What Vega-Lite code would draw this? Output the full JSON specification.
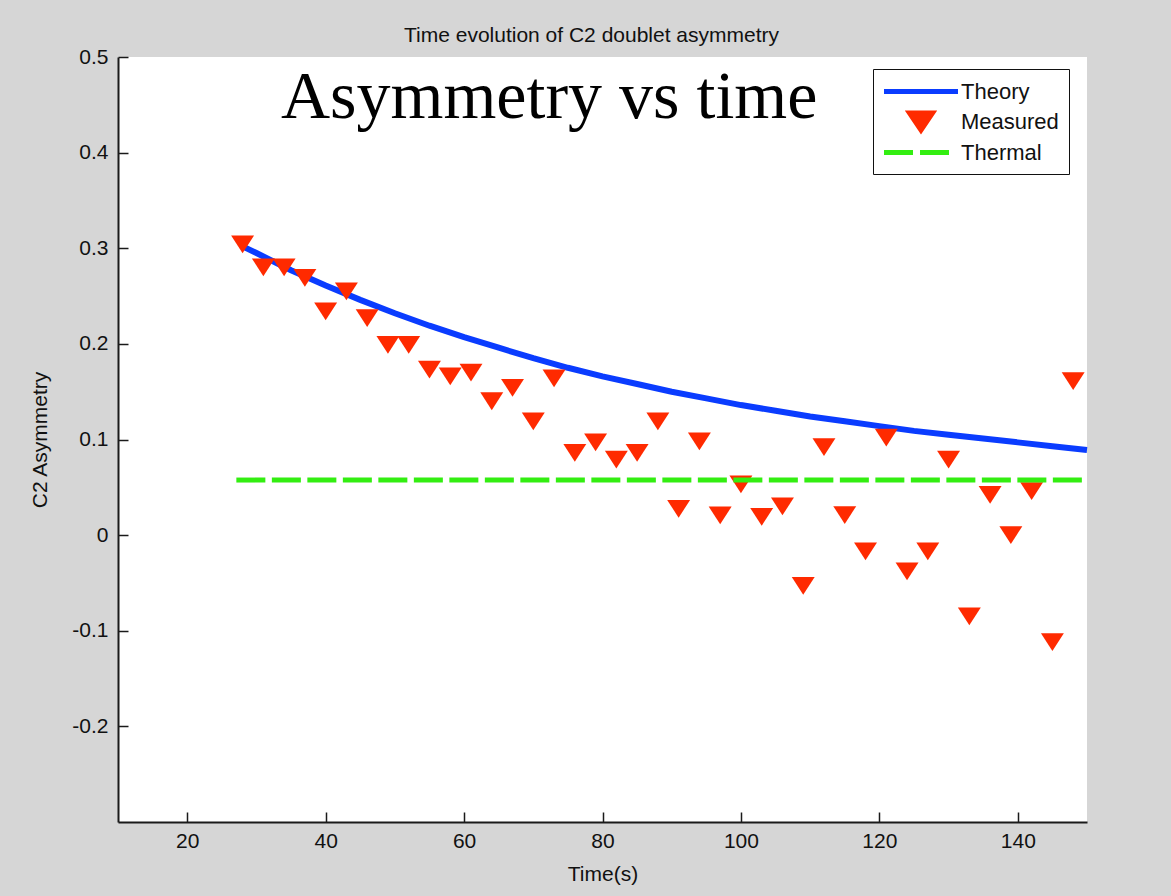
{
  "$schema": "https://vega.github.io/schema/vega-lite/v6.json",
  "width": 969,
  "height": 765,
  "autosize": {"type": "none"},
  "padding": {"left": 118, "top": 57, "right": 84, "bottom": 74},
  "background": "#d6d6d6",
  "title": {
    "text": "Time evolution of C2 doublet asymmetry",
    "font": "Liberation Sans",
    "fontSize": 21,
    "fontWeight": "normal",
    "color": "#111111",
    "anchor": "middle",
    "frame": "group",
    "baseline": "alphabetic",
    "offset": 14,
    "dx": -11,
    "dy": 31
  },
  "config": {
    "view": {"fill": "white", "stroke": null}
  },
  "datasets": {
    "theory": [
      {"t": 28, "a": 0.302, "series": "Theory"},
      {"t": 30, "a": 0.295, "series": "Theory"},
      {"t": 35, "a": 0.277, "series": "Theory"},
      {"t": 40, "a": 0.261, "series": "Theory"},
      {"t": 45, "a": 0.246, "series": "Theory"},
      {"t": 50, "a": 0.232, "series": "Theory"},
      {"t": 55, "a": 0.219, "series": "Theory"},
      {"t": 60, "a": 0.207, "series": "Theory"},
      {"t": 65, "a": 0.196, "series": "Theory"},
      {"t": 70, "a": 0.185, "series": "Theory"},
      {"t": 75, "a": 0.175, "series": "Theory"},
      {"t": 80, "a": 0.166, "series": "Theory"},
      {"t": 85, "a": 0.158, "series": "Theory"},
      {"t": 90, "a": 0.150, "series": "Theory"},
      {"t": 95, "a": 0.143, "series": "Theory"},
      {"t": 100, "a": 0.136, "series": "Theory"},
      {"t": 105, "a": 0.130, "series": "Theory"},
      {"t": 110, "a": 0.124, "series": "Theory"},
      {"t": 115, "a": 0.119, "series": "Theory"},
      {"t": 120, "a": 0.114, "series": "Theory"},
      {"t": 125, "a": 0.109, "series": "Theory"},
      {"t": 130, "a": 0.105, "series": "Theory"},
      {"t": 135, "a": 0.101, "series": "Theory"},
      {"t": 140, "a": 0.097, "series": "Theory"},
      {"t": 145, "a": 0.093, "series": "Theory"},
      {"t": 150, "a": 0.089, "series": "Theory"}
    ],
    "measured": [
      {"t": 28, "a": 0.304, "series": "Measured"},
      {"t": 31, "a": 0.280, "series": "Measured"},
      {"t": 34, "a": 0.280, "series": "Measured"},
      {"t": 37, "a": 0.269, "series": "Measured"},
      {"t": 40, "a": 0.234, "series": "Measured"},
      {"t": 43, "a": 0.255, "series": "Measured"},
      {"t": 46, "a": 0.227, "series": "Measured"},
      {"t": 49, "a": 0.199, "series": "Measured"},
      {"t": 52, "a": 0.199, "series": "Measured"},
      {"t": 55, "a": 0.173, "series": "Measured"},
      {"t": 58, "a": 0.166, "series": "Measured"},
      {"t": 61, "a": 0.170, "series": "Measured"},
      {"t": 64, "a": 0.140, "series": "Measured"},
      {"t": 67, "a": 0.154, "series": "Measured"},
      {"t": 70, "a": 0.119, "series": "Measured"},
      {"t": 73, "a": 0.164, "series": "Measured"},
      {"t": 76, "a": 0.086, "series": "Measured"},
      {"t": 79, "a": 0.097, "series": "Measured"},
      {"t": 82, "a": 0.079, "series": "Measured"},
      {"t": 85, "a": 0.086, "series": "Measured"},
      {"t": 88, "a": 0.119, "series": "Measured"},
      {"t": 91, "a": 0.0275, "series": "Measured"},
      {"t": 94, "a": 0.098, "series": "Measured"},
      {"t": 97, "a": 0.0206, "series": "Measured"},
      {"t": 100, "a": 0.053, "series": "Measured"},
      {"t": 103, "a": 0.019, "series": "Measured"},
      {"t": 106, "a": 0.030, "series": "Measured"},
      {"t": 109, "a": -0.053, "series": "Measured"},
      {"t": 112, "a": 0.092, "series": "Measured"},
      {"t": 115, "a": 0.021, "series": "Measured"},
      {"t": 118, "a": -0.017, "series": "Measured"},
      {"t": 121, "a": 0.102, "series": "Measured"},
      {"t": 124, "a": -0.038, "series": "Measured"},
      {"t": 127, "a": -0.017, "series": "Measured"},
      {"t": 130, "a": 0.079, "series": "Measured"},
      {"t": 133, "a": -0.085, "series": "Measured"},
      {"t": 136, "a": 0.042, "series": "Measured"},
      {"t": 139, "a": 0.000, "series": "Measured"},
      {"t": 142, "a": 0.046, "series": "Measured"},
      {"t": 145, "a": -0.112, "series": "Measured"},
      {"t": 148, "a": 0.161, "series": "Measured"}
    ],
    "thermal": [
      {"t": 27.1, "a": 0.0576, "series": "Thermal"},
      {"t": 150, "a": 0.0576, "series": "Thermal"}
    ],
    "annotation": [
      {"t": 72.3, "a": 0.4367, "label": "Asymmetry vs time"}
    ]
  },
  "encoding": {
    "x": {
      "field": "t",
      "type": "quantitative",
      "scale": {"domain": [10, 150], "nice": false, "zero": false},
      "axis": {
        "title": "Time(s)",
        "values": [20, 40, 60, 80, 100, 120, 140],
        "grid": false,
        "domainColor": "#1a1a1a",
        "domainWidth": 2,
        "tickColor": "#1a1a1a",
        "tickWidth": 1.5,
        "tickSize": -10,
        "labelFont": "Liberation Sans",
        "labelFontSize": 21,
        "labelColor": "#111111",
        "labelPadding": 18,
        "labelFlush": false,
        "titleFont": "Liberation Sans",
        "titleFontSize": 21,
        "titleFontWeight": "normal",
        "titleColor": "#111111",
        "titlePadding": 12
      }
    },
    "y": {
      "field": "a",
      "type": "quantitative",
      "scale": {"domain": [-0.3, 0.5], "nice": false, "zero": false},
      "axis": {
        "title": "C2 Asymmetry",
        "values": [-0.2, -0.1, 0, 0.1, 0.2, 0.3, 0.4, 0.5],
        "labelExpr": "datum.value == 0 ? '0' : replace(format(datum.value, '.1f'), '\u2212', '-')",
        "grid": false,
        "domainColor": "#1a1a1a",
        "domainWidth": 2,
        "tickColor": "#1a1a1a",
        "tickWidth": 1.5,
        "tickSize": -10,
        "labelFont": "Liberation Sans",
        "labelFontSize": 21,
        "labelColor": "#111111",
        "labelPadding": 20,
        "labelFlush": false,
        "titleFont": "Liberation Sans",
        "titleFontSize": 21,
        "titleFontWeight": "normal",
        "titleColor": "#111111",
        "titlePadding": 21
      }
    },
    "color": {
      "field": "series",
      "type": "nominal",
      "scale": {
        "domain": ["Theory", "Measured", "Thermal"],
        "range": ["#0a3cff", "#ff2a00", "#33ee11"]
      },
      "legend": {
        "title": null,
        "orient": "none",
        "legendX": 755,
        "legendY": 12,
        "strokeColor": "#111111",
        "fillColor": "white",
        "padding": 10,
        "cornerRadius": 0,
        "labelFont": "Liberation Sans",
        "labelFontSize": 22,
        "labelColor": "#111111",
        "labelOffset": 27.5,
        "symbolOffset": 25.5,
        "rowPadding": 0,
        "symbolSize": 400,
        "symbolStrokeWidth": 5,
        "encode": {
          "symbols": {
            "update": {
              "shape": {"signal": "datum.value === 'Measured' ? 'M-1.15,-0.85L1.15,-0.85L0,0.85Z' : datum.value === 'Thermal' ? 'M-3.7,0H-0.8M-0.1,0H2.8' : 'M-3.7,0H3.7'"},
              "fill": {"signal": "datum.value === 'Measured' ? '#ff2a00' : 'transparent'"},
              "stroke": {"signal": "datum.value === 'Theory' ? '#0a3cff' : datum.value === 'Thermal' ? '#33ee11' : 'transparent'"},
              "strokeWidth": {"value": 5},
              "size": {"value": 400},
              "opacity": {"value": 1}
            }
          }
        }
      }
    }
  },
  "layer": [
    {
      "data": {"name": "theory"},
      "mark": {"type": "line", "strokeWidth": 6}
    },
    {
      "data": {"name": "measured"},
      "mark": {
        "type": "point",
        "filled": true,
        "opacity": 1,
        "shape": "M-0.31,-0.24L0.31,-0.24L0,0.24Z",
        "size": 5476
      }
    },
    {
      "data": {"name": "thermal"},
      "mark": {"type": "line", "strokeWidth": 5, "strokeDash": [29, 6.5]}
    },
    {
      "data": {"name": "annotation"},
      "mark": {
        "type": "text",
        "font": "Liberation Serif",
        "fontSize": 68,
        "align": "center",
        "baseline": "alphabetic"
      },
      "encoding": {
        "text": {"field": "label"},
        "color": {"value": "black"}
      }
    }
  ]
}
